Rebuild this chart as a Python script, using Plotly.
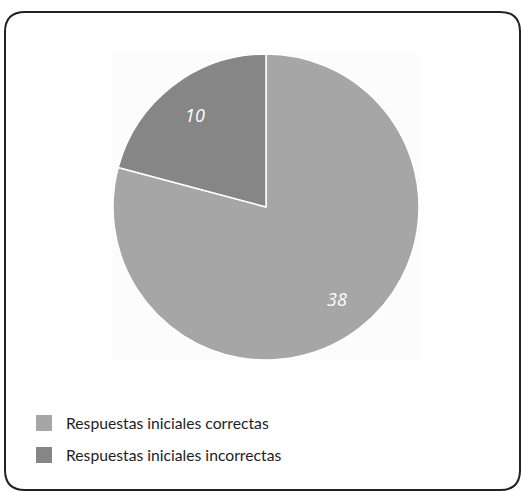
import math
import plotly.graph_objects as go

categories = ["Respuestas iniciales correctas", "Respuestas iniciales incorrectas"]
values = [38, 10]
colors = ["#a6a6a6", "#868686"]

W, H = 523, 492
CX, CY, R = 266, 207, 153  # pie centre and radius, pixels


def px_x(x):
    return x / W


def px_y(y):
    return 1 - y / H


fig = go.Figure()

fig.add_trace(go.Pie(
    labels=categories,
    values=values,
    sort=False,
    direction="clockwise",
    rotation=0,
    marker=dict(colors=colors, line=dict(color="white", width=1.5)),
    textinfo="none",
    domain=dict(x=[px_x(CX - R), px_x(CX + R)], y=[px_y(CY + R), px_y(CY - R)]),
    showlegend=False,
    hoverinfo="label+value",
))

annotations = []

# value labels inside each slice, near the slice's mid angle
total = sum(values)
start = 0.0
for v in values:
    mid = (start + v / 2) / total * 2 * math.pi  # clockwise from 12 o'clock
    start += v
    rr = 0.76 * R
    lx = CX + rr * math.sin(mid)
    ly = CY - rr * math.cos(mid)
    annotations.append(dict(x=px_x(lx), y=px_y(ly), xref="paper", yref="paper",
                            xanchor="center", yanchor="middle",
                            text=str(v), showarrow=False,
                            font=dict(family="Open Sans", size=18, color="white",
                                      style="italic")))

# faint plot-area backdrop behind the pie
shapes = [dict(type="rect", xref="paper", yref="paper", layer="below",
               x0=px_x(112), x1=px_x(420), y0=px_y(361), y1=px_y(52),
               fillcolor="#fcfcfc", line=dict(width=0))]

# rounded frame around the whole figure
x0, x1, y0, y1, r = 5, 520, 12, 490, 20
path = (
    f"M {px_x(x0 + r)},{px_y(y0)} L {px_x(x1 - r)},{px_y(y0)} "
    f"Q {px_x(x1)},{px_y(y0)} {px_x(x1)},{px_y(y0 + r)} "
    f"L {px_x(x1)},{px_y(y1 - r)} "
    f"Q {px_x(x1)},{px_y(y1)} {px_x(x1 - r)},{px_y(y1)} "
    f"L {px_x(x0 + r)},{px_y(y1)} "
    f"Q {px_x(x0)},{px_y(y1)} {px_x(x0)},{px_y(y1 - r)} "
    f"L {px_x(x0)},{px_y(y0 + r)} "
    f"Q {px_x(x0)},{px_y(y0)} {px_x(x0 + r)},{px_y(y0)} Z"
)
shapes.append(dict(type="path", xref="paper", yref="paper", path=path,
                   line=dict(color="#222222", width=2), fillcolor="rgba(0,0,0,0)"))

# legend: swatch + label per category
for i, (name, col) in enumerate(zip(categories, colors)):
    cy = 423 + 32 * i
    shapes.append(dict(type="rect", xref="paper", yref="paper",
                       x0=px_x(36), x1=px_x(52), y0=px_y(cy + 8), y1=px_y(cy - 8),
                       fillcolor=col, line=dict(width=0)))
    annotations.append(dict(x=px_x(64), y=px_y(cy), xref="paper", yref="paper",
                            text=name, showarrow=False, xanchor="left", yanchor="middle",
                            font=dict(family="Lato", size=15.7, color="#1e1e1e")))

fig.update_layout(
    width=W, height=H,
    margin=dict(l=0, r=0, t=0, b=0),
    paper_bgcolor="white",
    plot_bgcolor="white",
    shapes=shapes,
    annotations=annotations,
)

fig.write_html("out.html")
